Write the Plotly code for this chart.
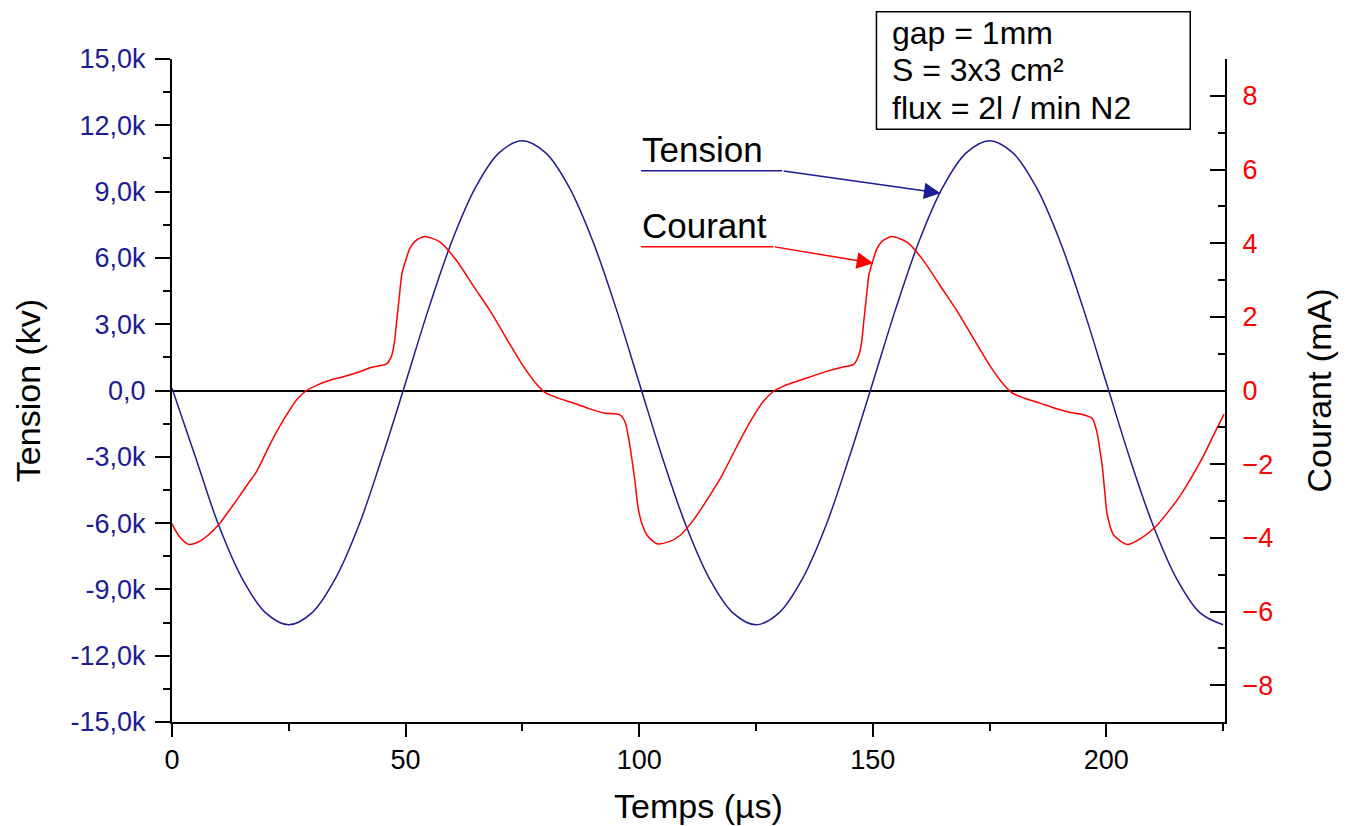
import plotly.graph_objects as go

# ---- Data ----
# Tension (V) vs time (µs)
t_tension = [0, 5, 10, 15, 20, 25, 30, 35, 40, 45, 50, 55, 60, 65, 70, 75, 80, 85, 90, 95,
             100, 105, 110, 115, 120, 125, 130, 135, 140, 145, 150, 155, 160, 165, 170, 175,
             180, 185, 190, 195, 200, 205, 210, 215, 220, 225]
tension = [100, -3000, -6100, -8500, -10050, -10600, -10050, -8500, -6100, -3000,
           350, 3750, 6800, 9200, 10750, 11300, 10750, 9200, 6800, 3750,
           350, -3050, -6100, -8500, -10050, -10600, -10050, -8500, -6100, -3000,
           350, 3750, 6800, 9200, 10750, 11300, 10750, 9200, 6800, 3750,
           350, -3050, -6100, -8500, -10050, -10600]

# Courant (mA) vs time (µs)
t_courant = [0, 1.5, 3.6, 5.5, 7.7, 10.2, 12, 14.1, 16, 18.1, 21.3, 24.1, 26.7, 28.8, 31.3,
             33.8, 36.3, 40.6, 42.4, 45.9, 47.0, 47.6, 48.1, 48.7, 49.2, 49.9, 50.9, 52.0,
             54.1, 57.4, 60.9, 64.5, 68.1, 71.7, 75.2, 78.1, 79.9, 82.5, 85.9, 89, 92.4, 95.9,
             97.0, 97.6, 98.1, 98.6, 99.1, 99.8, 100.6, 101.7, 103.8, 106.3, 108.8, 111.6,
             113.8, 117.4, 120.9, 123.8, 126.6, 128.8, 130.9, 135.9, 140.2, 143, 145.9, 147.0,
             147.6, 148.1, 148.7, 149.2, 149.9, 150.9, 152, 154.1, 157.4, 160.9, 164.5, 168.1,
             171.7, 175.2, 178.1, 179.9, 182.5, 185.9, 189, 192.4, 194.5, 197, 197.6, 198.1,
             198.6, 199.1, 199.7, 200.2, 201.6, 204.5, 207.3, 210.9, 213.5, 215.9, 218.5,
             220.9, 223, 225.2]
courant = [-3.62, -3.95, -4.18, -4.12, -3.93, -3.61, -3.30, -2.93, -2.58, -2.20, -1.38, -0.75,
           -0.25, 0.0, 0.16, 0.28, 0.36, 0.53, 0.62, 0.72, 0.94, 1.30, 1.89, 2.60, 3.16, 3.48,
           3.85, 4.05, 4.18, 4.03, 3.53, 2.84, 2.16, 1.39, 0.66, 0.16, -0.06, -0.20, -0.34,
           -0.48, -0.61, -0.66, -0.86, -1.20, -1.57, -2.00, -2.47, -3.20, -3.62, -3.93, -4.16,
           -4.11, -3.93, -3.52, -3.11, -2.38, -1.52, -0.84, -0.29, -0.02, 0.12, 0.34, 0.52,
           0.62, 0.71, 0.95, 1.30, 1.90, 2.60, 3.15, 3.47, 3.85, 4.05, 4.18, 4.02, 3.52, 2.83,
           2.15, 1.38, 0.65, 0.15, -0.07, -0.21, -0.35, -0.48, -0.60, -0.64, -0.76, -0.95,
           -1.20, -1.60, -2.02, -2.80, -3.38, -3.93, -4.18, -4.02, -3.65, -3.25, -2.84, -2.30,
           -1.75, -1.20, -0.64]

# Tick labels
left_tickvals = [-15000, -12000, -9000, -6000, -3000, 0, 3000, 6000, 9000, 12000, 15000]
left_ticktext = ["-15,0k", "-12,0k", "-9,0k", "-6,0k", "-3,0k", "0,0", "3,0k", "6,0k",
                 "9,0k", "12,0k", "15,0k"]
right_tickvals = [-8, -6, -4, -2, 0, 2, 4, 6, 8]
x_tickvals = [0, 50, 100, 150, 200]

box_lines = ["gap = 1mm", "S = 3x3 cm²", "flux = 2l / min N2"]

NAVY = "#1c1c94"
RED = "#ff0000"
FONT = "Arial, Liberation Sans, sans-serif"

fig = go.Figure()
fig.add_trace(go.Scatter(x=t_tension, y=tension, mode="lines", name="Tension",
                         line=dict(color=NAVY, width=1.5, shape="spline"), yaxis="y"))
fig.add_trace(go.Scatter(x=t_courant, y=courant, mode="lines", name="Courant",
                         line=dict(color=RED, width=1.5, shape="spline", smoothing=0.7),
                         yaxis="y2"))

fig.update_layout(
    width=1352, height=826,
    margin=dict(l=164, r=135, t=51, b=112, autoexpand=False),
    paper_bgcolor="white", plot_bgcolor="white",
    showlegend=False,
    font=dict(family=FONT, color="black"),
    xaxis=dict(
        range=[0, 225.4], tickvals=x_tickvals, showgrid=False, zeroline=False,
        showline=True, linecolor="black", linewidth=2,
        ticks="outside", ticklen=13, tickwidth=2, tickcolor="black",
        minor=dict(dtick=25, tick0=0, ticks="outside", ticklen=7, tickwidth=2, tickcolor="black"),
        tickfont=dict(size=27, color="black", family=FONT),
        title=dict(text="Temps (µs)", font=dict(size=34, family=FONT), standoff=20),
    ),
    yaxis=dict(
        range=[-15000, 15000], tickvals=left_tickvals, ticktext=left_ticktext,
        showgrid=False, zeroline=True, zerolinecolor="black", zerolinewidth=1.5,
        showline=True, linecolor="black", linewidth=2,
        ticks="outside", ticklen=15, tickwidth=2, tickcolor="black",
        minor=dict(dtick=1500, tick0=0, ticks="outside", ticklen=7, tickwidth=2, tickcolor="black"),
        tickfont=dict(size=27, color=NAVY, family=FONT), ticklabelstandoff=4,
        title=dict(text="Tension (kv)", font=dict(size=34, family=FONT), standoff=20),
    ),
    yaxis2=dict(
        range=[-9, 9], tickvals=right_tickvals, overlaying="y", side="right",
        showgrid=False, zeroline=False,
        showline=True, linecolor="black", linewidth=2,
        ticks="inside", ticklen=15, tickwidth=2, tickcolor="black",
        minor=dict(dtick=1, tick0=0, ticks="inside", ticklen=7, tickwidth=2, tickcolor="black"),
        tickfont=dict(size=27, color=RED, family=FONT), ticklabelstandoff=10,
        title=dict(text="Courant (mA)", font=dict(size=34, family=FONT), standoff=35),
    ),
)

# Label underlines
fig.add_shape(type="line", xref="x", yref="y", x0=100.4, x1=130.6, y0=9940, y1=9940,
              line=dict(color=NAVY, width=1.5))
fig.add_shape(type="line", xref="x", yref="y", x0=100.4, x1=128.7, y0=6510, y1=6510,
              line=dict(color=RED, width=1.5))

# Arrows
fig.add_annotation(x=164.5, y=8930, xref="x", yref="y", ax=130.6, ay=9940, axref="x", ayref="y",
                   text="", showarrow=True, arrowhead=2, arrowsize=2.2, arrowwidth=1.5,
                   arrowcolor=NAVY)
fig.add_annotation(x=150.1, y=5760, xref="x", yref="y", ax=128.7, ay=6510, axref="x", ayref="y",
                   text="", showarrow=True, arrowhead=2, arrowsize=2.2, arrowwidth=1.5,
                   arrowcolor=RED)

# Label texts
fig.add_annotation(x=100.2, y=9940, xref="x", yref="y", text="Tension", showarrow=False,
                   xanchor="left", yanchor="bottom", font=dict(size=35, color="black", family=FONT))
fig.add_annotation(x=100.2, y=6510, xref="x", yref="y", text="Courant", showarrow=False,
                   xanchor="left", yanchor="bottom", font=dict(size=35, color="black", family=FONT))

# Parameter box (frame + three text lines), paper coordinates
fig.add_shape(type="rect", xref="paper", yref="paper", x0=0.669, x1=0.967, y0=0.894, y1=1.0714,
              line=dict(color="black", width=1.5), fillcolor="white", layer="above")
box_y = [1.0394, 0.9836, 0.9262]
for txt, yy in zip(box_lines, box_y):
    fig.add_annotation(x=0.6815, y=yy, xref="paper", yref="paper", xanchor="left",
                       yanchor="middle", text=txt, showarrow=False, align="left",
                       font=dict(size=32, color="black", family=FONT))

fig.write_html("out.html")
